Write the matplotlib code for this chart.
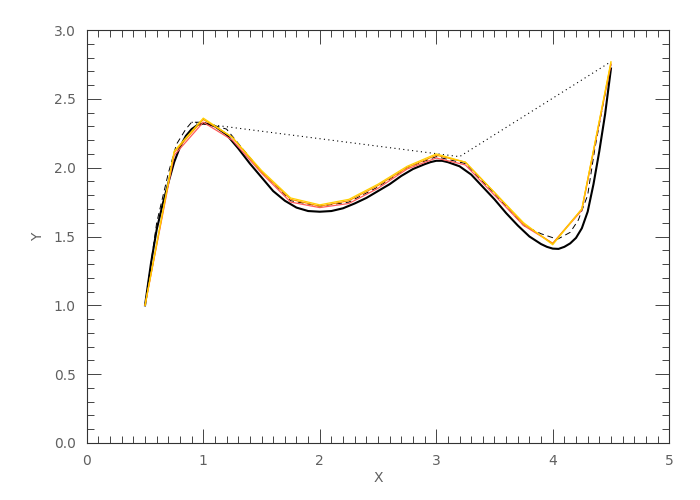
import numpy as np
import matplotlib
matplotlib.use("Agg")
import matplotlib.pyplot as plt
from matplotlib.ticker import MultipleLocator

# true curve, values
x_true = [0.50, 0.55, 0.60, 0.65, 0.70, 0.75, 0.80, 0.85, 0.90, 0.95,
          1.00, 1.05, 1.10, 1.20, 1.30, 1.40, 1.50, 1.60, 1.70, 1.80, 1.90,
          2.00, 2.10, 2.20, 2.30, 2.40, 2.50, 2.60, 2.70, 2.80, 2.90,
          2.95, 3.00, 3.05, 3.10, 3.20, 3.30, 3.40, 3.50, 3.60, 3.70, 3.80,
          3.90, 3.95, 4.00, 4.05, 4.10, 4.15, 4.20, 4.25, 4.30, 4.35, 4.40,
          4.45, 4.50]
y_true = [1.00, 1.30, 1.55, 1.73, 1.89, 2.04, 2.15, 2.23, 2.28, 2.31,
          2.32, 2.315, 2.30, 2.24, 2.14, 2.03, 1.93, 1.83, 1.76, 1.71, 1.685,
          1.68, 1.685, 1.705, 1.74, 1.78, 1.83, 1.88, 1.94, 1.99, 2.025,
          2.04, 2.05, 2.05, 2.04, 2.01, 1.95, 1.86, 1.77, 1.67, 1.58, 1.50,
          1.445, 1.425, 1.412, 1.41, 1.425, 1.45, 1.49, 1.56, 1.68, 1.88, 2.12,
          2.39, 2.72]

# sparse samples (dotted)
x_pts = [0.9, 3.2, 4.5]
y_pts = [2.33, 2.08, 2.77]

# dashed fit
x_dash = [0.50, 0.60, 0.70, 0.77, 0.85, 0.90, 1.00, 1.20, 1.50, 1.75, 2.00,
          2.25, 2.50, 2.75, 3.00, 3.25, 3.50, 3.75, 3.90, 4.04, 4.15,
          4.22, 4.30, 4.36, 4.43, 4.50]
y_dash = [1.00, 1.60, 1.96, 2.17, 2.28, 2.33, 2.33, 2.28, 1.97, 1.76, 1.72,
          1.75, 1.86, 2.00, 2.08, 2.03, 1.81, 1.58, 1.52, 1.48, 1.53,
          1.62, 1.80, 2.13, 2.45, 2.75]

# piecewise estimates on a 0.25 grid
x_grid = [0.50, 0.75, 1.00, 1.25, 1.50, 1.75, 2.00, 2.25, 2.50,
          2.75, 3.00, 3.25, 3.50, 3.75, 4.00, 4.25, 4.50]
y_red = [1.00, 2.09, 2.33, 2.20, 1.96, 1.75, 1.71, 1.74, 1.85,
         1.99, 2.07, 2.02, 1.80, 1.58, 1.45, 1.69, 2.75]
y_orange = [1.00, 2.11, 2.35, 2.22, 1.97, 1.77, 1.72, 1.76, 1.87,
            2.00, 2.09, 2.04, 1.82, 1.59, 1.45, 1.70, 2.76]
y_yellow = [1.00, 2.12, 2.36, 2.22, 1.98, 1.78, 1.73, 1.77, 1.88,
            2.01, 2.10, 2.04, 1.82, 1.60, 1.44, 1.70, 2.77]

fig = plt.figure(figsize=(7, 5), dpi=100)
ax = fig.add_axes([0.124, 0.114, 0.832, 0.826])

ax.plot(x_true, y_true, color="black", lw=1.5, zorder=2,
        solid_joinstyle="round")
ax.plot(x_pts, y_pts, color="black", lw=0.8, ls=(0, (1, 3)), zorder=3)
ax.plot(x_dash, y_dash, color="black", lw=0.7, ls=(0, (6, 4)), zorder=3)
ax.plot(x_grid, y_red, color="#ff5a5a", lw=0.9, zorder=4)
ax.plot(x_grid, y_orange, color="#ff9a00", lw=0.9, zorder=5)
ax.plot(x_grid, y_yellow, color="#ffd000", lw=0.9, zorder=6)

ax.set_xlim(0, 5)
ax.set_ylim(0, 3)
ax.xaxis.set_major_locator(MultipleLocator(1))
ax.xaxis.set_minor_locator(MultipleLocator(0.1))
ax.yaxis.set_major_locator(MultipleLocator(0.5))
ax.yaxis.set_minor_locator(MultipleLocator(0.1))
ax.yaxis.set_major_formatter(matplotlib.ticker.FormatStrFormatter("%.1f"))

ax.tick_params(which="both", direction="in", top=True, right=True,
               colors="#444444", labelcolor="#606060", labelsize=10, width=0.7)
ax.tick_params(which="major", length=10, pad=8)
ax.tick_params(which="minor", length=5)
for s in ax.spines.values():
    s.set_linewidth(0.8)
    s.set_color("#333333")

ax.set_xlabel("X", color="#606060", fontsize=10, labelpad=2)
ax.set_ylabel("Y", color="#606060", fontsize=10, labelpad=6)

fig.savefig("out.png", dpi=100)
